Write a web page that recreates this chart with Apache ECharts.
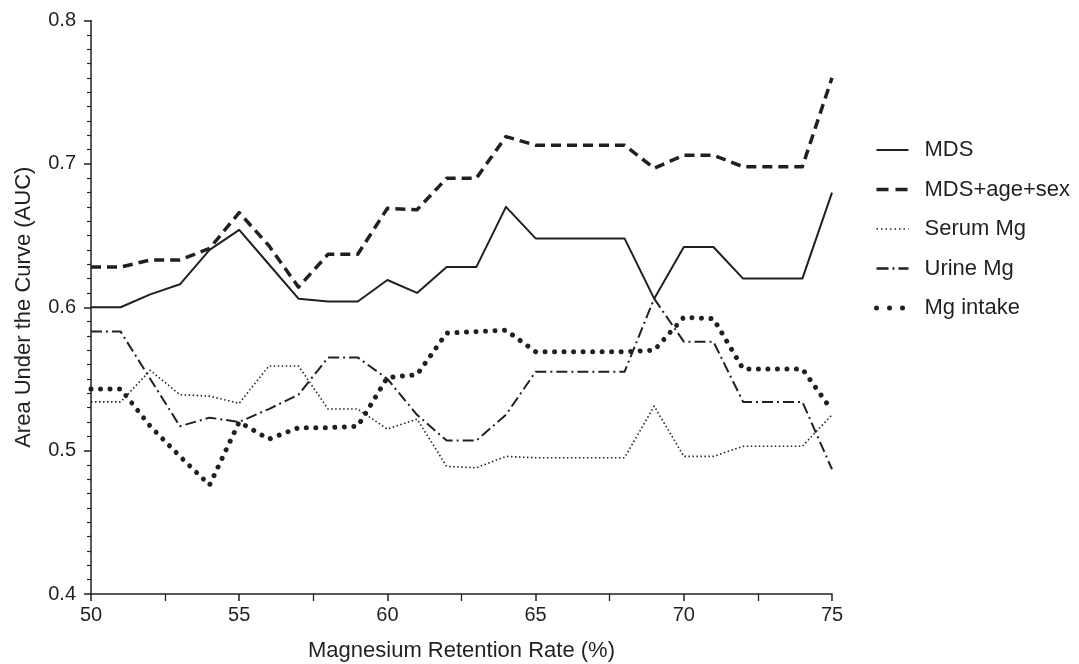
<!DOCTYPE html>
<html>
<head>
<meta charset="utf-8">
<script src="https://cdn.jsdelivr.net/npm/echarts@6/dist/echarts.min.js"></script>
<style>html,body{margin:0;padding:0;background:#fff}#c{width:1079px;height:664px}</style>
</head>
<body>
<div id="c"></div>
<script>
const xValues = [50,51,52,53,54,55,56,57,58,59,60,61,62,63,64,65,66,67,68,69,70,71,72,73,74,75];
const mds =        [0.600,0.600,0.609,0.616,0.640,0.654,0.630,0.606,0.604,0.604,0.619,0.610,0.628,0.628,0.670,0.648,0.648,0.648,0.648,0.606,0.642,0.642,0.620,0.620,0.620,0.680];
const mdsAgeSex =  [0.628,0.628,0.633,0.633,0.641,0.666,0.643,0.614,0.637,0.637,0.669,0.668,0.690,0.690,0.719,0.713,0.713,0.713,0.713,0.697,0.706,0.706,0.698,0.698,0.698,0.760];
const serumMg =    [0.534,0.534,0.556,0.539,0.538,0.533,0.559,0.559,0.529,0.529,0.515,0.522,0.489,0.488,0.496,0.495,0.495,0.495,0.495,0.531,0.496,0.496,0.503,0.503,0.503,0.525];
const urineMg =    [0.583,0.583,0.550,0.517,0.523,0.520,0.529,0.539,0.565,0.565,0.550,0.525,0.507,0.507,0.525,0.555,0.555,0.555,0.555,0.606,0.576,0.576,0.534,0.534,0.534,0.487];
const mgIntake =   [0.543,0.543,0.517,0.496,0.476,0.520,0.508,0.516,0.516,0.517,0.551,0.553,0.582,0.583,0.584,0.569,0.569,0.569,0.569,0.570,0.593,0.592,0.557,0.557,0.557,0.528];
const seriesNames = ['MDS','MDS+age+sex','Serum Mg','Urine Mg','Mg intake'];
const yTicks = [0.4,0.5,0.6,0.7,0.8];

const ink = '#231f20';
const font = '"Liberation Sans", Arial, Helvetica, sans-serif';
const pair = arr => xValues.map((x,i)=>[x,arr[i]]);
const styles = [
  {width:2, type:'solid', cap:'butt'},
  {width:3.5, type:[10,6], cap:'butt'},
  {width:1.6, type:[1.5,2.5], cap:'butt'},
  {width:2, type:[11,4,2,4], cap:'butt'},
  {width:5, type:[0.01,9.5], cap:'round'}
];
const legendStyles = [
  {width:2, type:'solid', cap:'butt'},
  {width:3.5, type:[12,7], cap:'butt'},
  {width:1.6, type:[1.5,3], cap:'butt'},
  {width:2.5, type:[12,4,2,4], cap:'butt'},
  {width:5, type:[0.01,13], cap:'round'}
];
const dataArr = [mds, mdsAgeSex, serumMg, urineMg, mgIntake];
const chart = echarts.init(document.getElementById('c'), null, {renderer:'canvas'});
chart.setOption({
  animation:false,
  backgroundColor:'#fff',
  textStyle:{fontFamily:font, color:ink},
  grid:{left:91, right:247, top:20.5, bottom:70, containLabel:false, outerBoundsMode:'none'},
  legend:{
    orient:'vertical', left:874, top:139, padding:0, itemWidth:32, itemHeight:14, itemGap:17.5,
    textStyle:{fontSize:22, color:ink, fontFamily:font, padding:[0,0,0,11]},
    itemStyle:{opacity:0},
    data:seriesNames.map((n,i)=>({name:n, lineStyle:{color:ink, width:legendStyles[i].width, type:legendStyles[i].type, cap:legendStyles[i].cap}}))
  },
  xAxis:{
    type:'value', min:50, max:75, interval:5,
    name:'Magnesium Retention Rate (%)', nameLocation:'middle', nameGap:46,
    nameTextStyle:{fontSize:22, color:ink},
    axisLine:{lineStyle:{color:ink, width:1.5}},
    axisTick:{show:true, length:7, lineStyle:{color:ink, width:1.5}},
    minorTick:{show:true, splitNumber:2, length:7, lineStyle:{color:ink, width:1.3}},
    axisLabel:{fontSize:20, color:ink, margin:11},
    splitLine:{show:false}
  },
  yAxis:{
    type:'value', min:0.4, max:0.8, interval:0.1,
    name:'Area Under the Curve (AUC)', nameLocation:'middle', nameGap:56,
    nameTextStyle:{fontSize:22, color:ink},
    axisLine:{show:true, lineStyle:{color:ink, width:1.5}},
    axisTick:{show:true, length:7, lineStyle:{color:ink, width:1.5}},
    minorTick:{show:true, splitNumber:10, length:4, lineStyle:{color:ink, width:1.2}},
    axisLabel:{fontSize:20, color:ink, margin:15, formatter:v=>{const t=yTicks.find(k=>Math.abs(k-v)<1e-9);return t!==undefined?String(t):'';}},
    splitLine:{show:false}
  },
  series: seriesNames.map((n,i)=>({
    name:n, type:'line', data:pair(dataArr[i]), showSymbol:false, symbol:'none',
    lineStyle:{color:ink, width:styles[i].width, type:styles[i].type, cap:styles[i].cap, join:'round'},
    itemStyle:{color:ink}
  }))
});
</script>
</body>
</html>
